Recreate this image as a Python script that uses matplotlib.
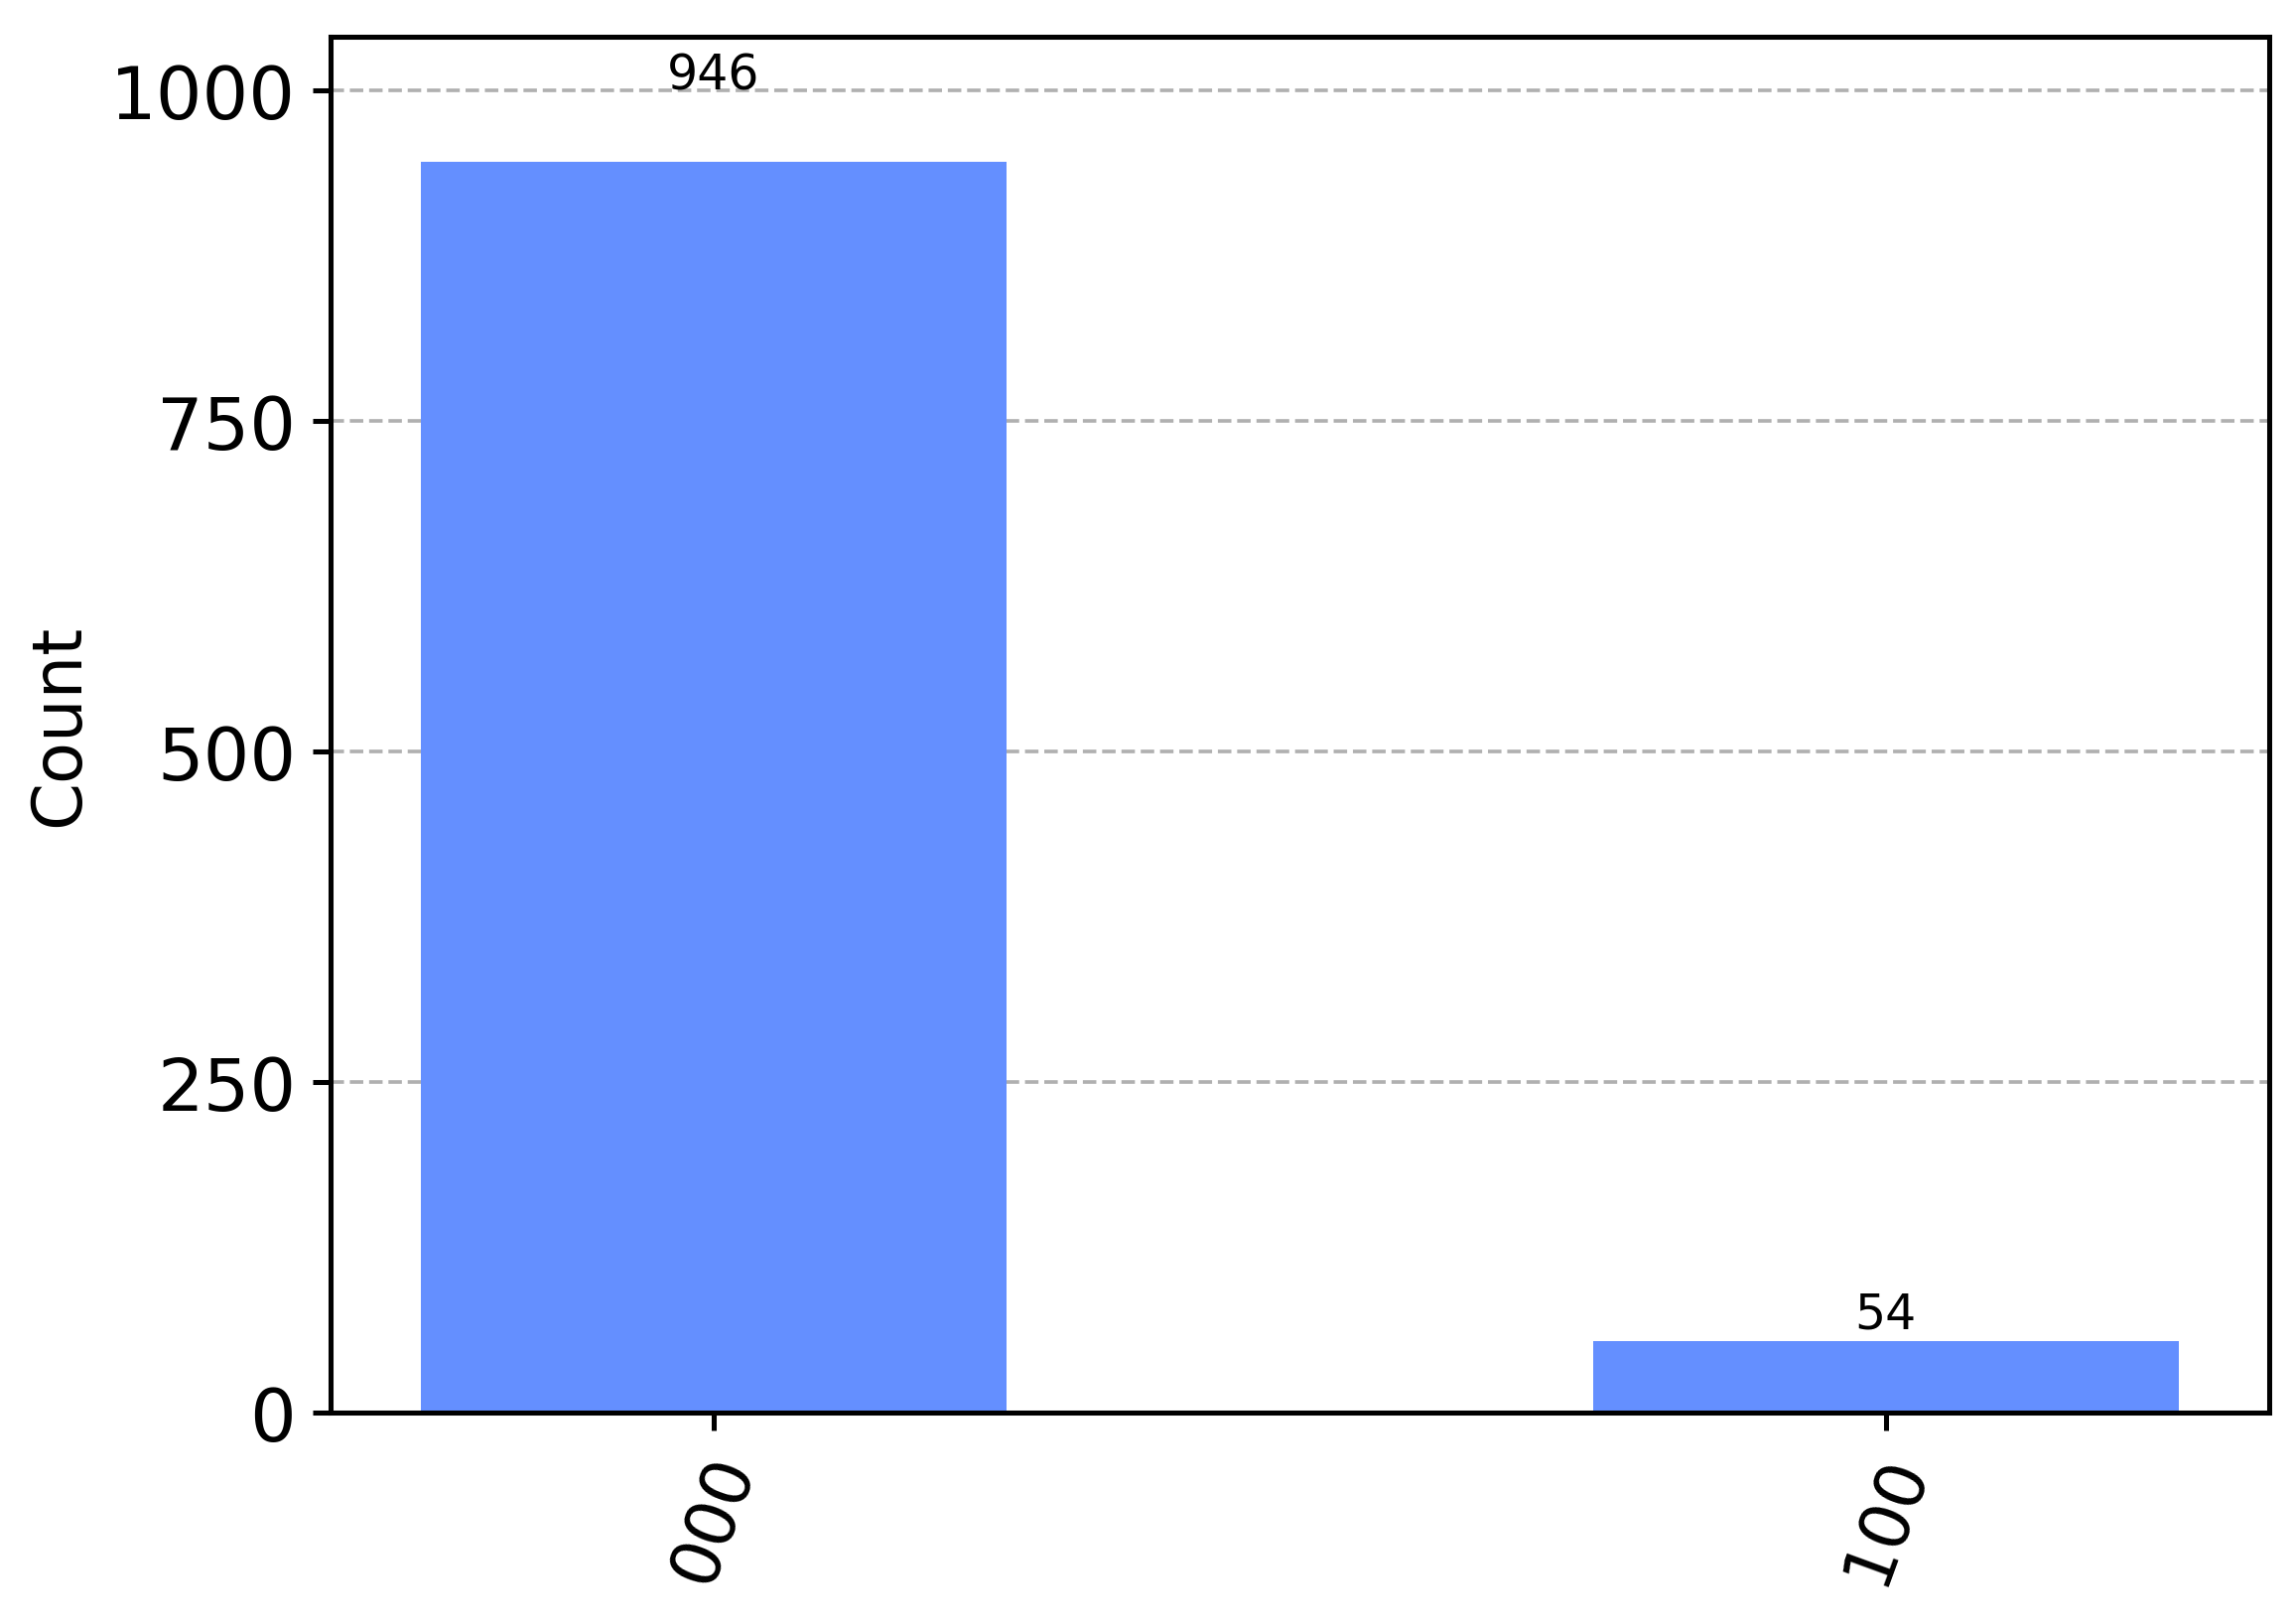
import matplotlib
matplotlib.use("Agg")
import matplotlib.pyplot as plt
import numpy as np

states = ["000", "100"]
counts = [946, 54]
y_ticks = [0, 250, 500, 750, 1000]

fig = plt.figure(figsize=(7, 4.96), dpi=330)
ax = fig.add_axes([0.144, 0.130, 0.8456, 0.847])

x = np.arange(len(states))
bars = ax.bar(x, counts, width=0.5, color="#648fff", zorder=2)
for rect, value in zip(bars, counts):
    ax.text(
        rect.get_x() + rect.get_width() / 2.0,
        1.05 * rect.get_height(),
        str(value),
        ha="center",
        va="bottom",
        zorder=3,
        fontsize=10.7,
    )

ax.set_xlim(-0.327, len(states) - 1 + 0.327)
ax.set_ylim(0, 1.1 * max(counts))
ax.set_xticks(x)
ax.set_xticklabels(states, rotation=70, fontsize=15)
ax.set_yticks(y_ticks)
ax.tick_params(axis="y", labelsize=16)
ax.tick_params(width=1.1, length=4)
for spine in ax.spines.values():
    spine.set_linewidth(1.1)
ax.set_ylabel("Count", fontsize=15)
ax.grid(which="major", axis="y", zorder=0, linestyle="--")
ax.set_axisbelow(True)

fig.savefig("out.png", dpi=330)
plt.close(fig)
